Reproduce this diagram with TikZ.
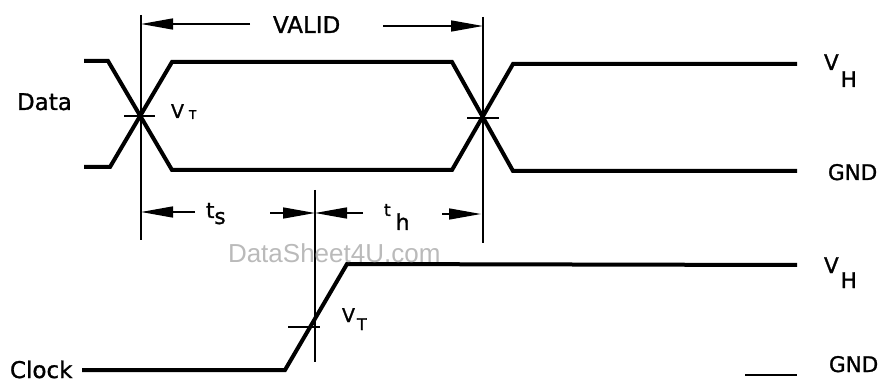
\documentclass[tikz,border=0pt]{standalone}
\usepackage{fontspec}
\setmainfont{DejaVu Sans}
\newfontfamily\lblfont[FakeBold=1.2]{DejaVu Sans}
\newfontfamily\wmfont{Liberation Sans}
\usetikzlibrary{arrows.meta}
\begin{document}
\begin{tikzpicture}[x=1pt,y=-1pt,
  sig/.style={line width=4pt,line join=miter},
  thinline/.style={line width=1.5pt},
  dimarrow/.style={line width=1.5pt,-{Triangle[length=32pt,width=11pt]}},
  lbl/.style={inner sep=0pt,outer sep=0pt,anchor=base west,font=\lblfont\fontsize{23}{23}\selectfont}]
\useasboundingbox (0,0) rectangle (881,382);
% Data waveform corners
\coordinate (a0) at (84,61);  \coordinate (a1) at (108,61);
\coordinate (a2) at (172,170); \coordinate (a3) at (452,170);
\coordinate (a4) at (513,64);  \coordinate (a5) at (797,64);
\coordinate (b0) at (84,167); \coordinate (b1) at (110,167);
\coordinate (b2) at (172,62);  \coordinate (b3) at (452,62);
\coordinate (b4) at (513,171); \coordinate (b5) at (797,171);
\draw[sig] (a0) -- (a1) -- (a2) -- (a3) -- (a4) -- (a5);
\draw[sig] (b0) -- (b1) -- (b2) -- (b3) -- (b4) -- (b5);
% Clock waveform
\coordinate (c0) at (82,370); \coordinate (c1) at (285,370);
\coordinate (c2) at (347,264); \coordinate (c3) at (797,265);
\draw[sig] (c0) -- (c1) -- (c2) -- (c3);
% GND marker
\coordinate (g0) at (745,375); \coordinate (g1) at (797,375);
\draw[line width=2pt] (g0) -- (g1);
% vertical reference lines
\coordinate (v1t) at (141,15);  \coordinate (v1b) at (141,240);
\coordinate (v2t) at (483,17);  \coordinate (v2b) at (483,243);
\coordinate (v3t) at (315,190); \coordinate (v3b) at (315,362);
\draw[thinline] (v1t) -- (v1b);
\draw[thinline] (v2t) -- (v2b);
\draw[thinline] (v3t) -- (v3b);
% VT ticks
\coordinate (t1l) at (124,116); \coordinate (t1r) at (155,116);
\coordinate (t2l) at (467,118); \coordinate (t2r) at (499,118);
\coordinate (t3l) at (288,327); \coordinate (t3r) at (320,327);
\draw[thinline] (t1l) -- (t1r);
\draw[thinline] (t2l) -- (t2r);
\draw[thinline] (t3l) -- (t3r);
% dimension arrows
\coordinate (va1) at (250,24);  \coordinate (va1e) at (141,24);
\coordinate (va2) at (383,26);  \coordinate (va2e) at (483,26);
\coordinate (ts1) at (195,212); \coordinate (ts1e) at (141,212);
\coordinate (ts2) at (270,213); \coordinate (ts2e) at (315,213);
\coordinate (th1) at (363,213); \coordinate (th1e) at (315,213);
\coordinate (th2) at (442,214); \coordinate (th2e) at (481,214);
\draw[dimarrow] (va1) -- (va1e);
\draw[dimarrow] (va2) -- (va2e);
\draw[dimarrow] (ts1) -- (ts1e);
\draw[dimarrow] (ts2) -- (ts2e);
\draw[dimarrow] (th1) -- (th1e);
\draw[dimarrow] (th2) -- (th2e);
% labels
\node[lbl] (valid) at (273,33) {VALID};
\node[lbl] (data) at (17,110) {Data};
\node[lbl] (clock) at (10,378) {Clock};
\node[lbl,font=\lblfont\fontsize{21.5}{21.5}\selectfont] (gnd1) at (828,180) {GND};
\node[lbl,font=\lblfont\fontsize{21.5}{21.5}\selectfont] (gnd2) at (829,372) {GND};
\node[lbl] (vt1) at (171,118) {\fontsize{19}{19}\selectfont V\hspace{5pt}\raisebox{-1pt}{\fontsize{12}{12}\selectfont T}};
\node[lbl] (vt2) at (342,322) {\fontsize{19}{19}\selectfont V\hspace{2pt}\raisebox{-8pt}{\fontsize{16}{16}\selectfont T}};
\node[lbl] (vh1) at (824,70) {\fontsize{21.5}{21.5}\selectfont V\hspace{2pt}\raisebox{-17pt}{H}};
\node[lbl] (vh2) at (824,273) {\fontsize{21.5}{21.5}\selectfont V\hspace{2pt}\raisebox{-15pt}{H}};
\node[lbl] (tslbl) at (206,218) {\fontsize{21.5}{21.5}\selectfont t\raisebox{-6pt}{s}};
\node[lbl] (thlbl) at (384,216) {\fontsize{17}{17}\selectfont t\hspace{5pt}\raisebox{-14pt}{\fontsize{22}{22}\selectfont h}};
\node[lbl,font=\wmfont\fontsize{26}{26}\selectfont,text=black!27] (wm) at (228,262) {DataSheet4U.com};
\end{tikzpicture}
\end{document}
